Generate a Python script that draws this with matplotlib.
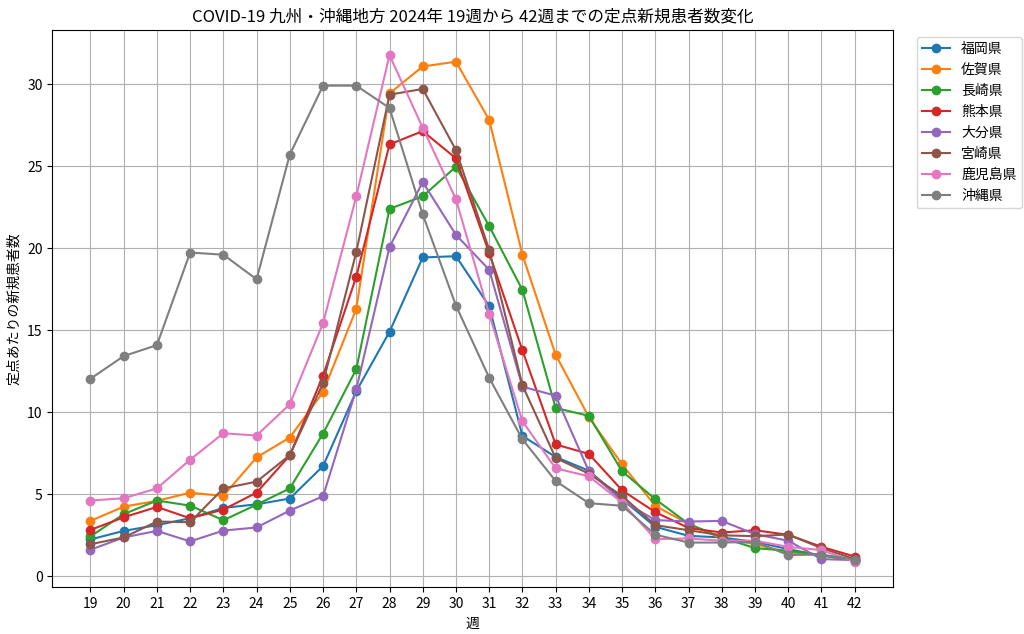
import matplotlib
matplotlib.use("Agg")
import matplotlib.pyplot as plt

plt.rcParams['font.family'] = ['Noto Sans CJK JP', 'DejaVu Sans']

weeks = list(range(19, 43))

prefectures = ['福岡県', '佐賀県', '長崎県', '熊本県', '大分県', '宮崎県', '鹿児島県', '沖縄県']

fukuoka = [2.25, 2.77, 3.12, 3.54, 4.17, 4.39, 4.74, 6.72, 11.28, 14.9, 19.43, 19.51,
           16.46, 8.56, 7.27, 6.44, 4.7, 3.02, 2.47, 2.37, 2.1, 1.66, 1.26, 0.99]
saga = [3.38, 4.25, 4.6, 5.1, 4.9, 7.25, 8.46, 11.23, 16.3, 29.43, 31.07, 31.36,
        27.81, 19.6, 13.5, 9.7, 6.82, 4.29, 3.2, 2.3, 1.96, 1.46, 1.3, 0.95]
nagasaki = [2.43, 3.79, 4.62, 4.31, 3.42, 4.37, 5.36, 8.7, 12.62, 22.39, 23.16, 24.96,
            21.34, 17.45, 10.26, 9.78, 6.4, 4.7, 3.2, 2.37, 1.72, 1.56, 1.3, 0.95]
kumamoto = [2.83, 3.6, 4.23, 3.54, 4.07, 5.1, 7.37, 12.23, 18.26, 26.32, 27.13, 25.47,
            19.7, 13.77, 8.04, 7.46, 5.24, 3.91, 2.95, 2.67, 2.81, 2.53, 1.8, 1.21]
oita = [1.62, 2.37, 2.77, 2.13, 2.79, 2.98, 4.01, 4.88, 11.4, 20.06, 24.03, 20.81,
        18.68, 11.56, 11.01, 6.4, 4.6, 3.43, 3.34, 3.38, 2.57, 2.17, 1.05, 0.99]
miyazaki = [1.96, 2.37, 3.34, 3.3, 5.36, 5.77, 7.39, 11.78, 19.76, 29.35, 29.7, 25.97,
            19.9, 11.64, 7.21, 6.26, 4.9, 3.12, 2.81, 2.5, 2.45, 2.55, 1.72, 1.05]
kagoshima = [4.62, 4.76, 5.36, 7.11, 8.72, 8.58, 10.49, 15.43, 23.15, 31.76, 27.33, 22.98,
             15.97, 9.45, 6.58, 6.1, 4.5, 2.27, 2.31, 2.17, 2.17, 1.8, 1.6, 0.89]
okinawa = [12.04, 13.42, 14.09, 19.73, 19.6, 18.1, 25.7, 29.9, 29.9, 28.54, 22.05, 16.5,
           12.1, 8.35, 5.81, 4.46, 4.3, 2.54, 2.06, 2.06, 2.1, 1.3, 1.33, 1.02]

series = [fukuoka, saga, nagasaki, kumamoto, oita, miyazaki, kagoshima, okinawa]

fig = plt.figure(figsize=(10.24, 6.34), dpi=100)
ax = fig.add_axes([0.051, 0.074, 0.821, 0.879])

for name, values in zip(prefectures, series):
    ax.plot(weeks, values, marker='o', label=name)

ax.set_title('COVID-19 九州・沖縄地方 2024年 19週から 42週までの定点新規患者数変化')
ax.set_xlabel('週')
ax.set_ylabel('定点あたりの新規患者数')
ax.set_xticks(weeks)
ax.grid(True)
ax.legend(loc='upper left', bbox_to_anchor=(1.02, 1))

fig.savefig('out.png')
